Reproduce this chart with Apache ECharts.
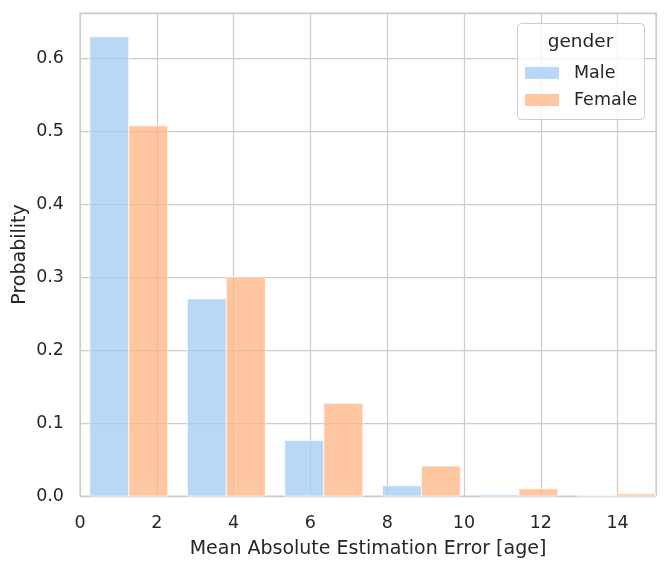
<!DOCTYPE html>
<html>
<head>
<meta charset="utf-8">
<script src="https://cdn.jsdelivr.net/npm/echarts@6/dist/echarts.min.js"></script>
<style>
html,body{margin:0;padding:0;background:#fff;}
#chart{width:665px;height:575px;}
</style>
</head>
<body>
<div id="chart"></div>
<script>
const binEdges = [0, 2.54, 5.08, 7.62, 10.16, 12.7, 15.24];
const maleValues = [0.629, 0.270, 0.076, 0.014, 0.002, 0.0005];
const femaleValues = [0.507, 0.300, 0.127, 0.041, 0.010, 0.003];
const xTicks = [0, 2, 4, 6, 8, 10, 12, 14];
const yTicks = [0.0, 0.1, 0.2, 0.3, 0.4, 0.5, 0.6];
const seriesNames = ['Male', 'Female'];
const colors = ['rgba(161,201,244,0.75)', 'rgba(255,180,130,0.75)'];

const FONT = 'DejaVu Sans';
const chart = echarts.init(document.getElementById('chart'));

function makeData(vals, k) {
  return vals.map((v, i) => {
    const a = binEdges[i], b = binEdges[i + 1];
    const w = (b - a) * 0.8 / 2;
    const x0 = a + (b - a) * 0.1 + k * w;
    return [x0, x0 + w, v];
  });
}

function renderItem(params, api) {
  const p0 = api.coord([api.value(0), api.value(2)]);
  const p1 = api.coord([api.value(1), 0]);
  const shape = echarts.graphic.clipRectByRect({
    x: p0[0], y: p0[1], width: p1[0] - p0[0], height: p1[1] - p0[1]
  }, {
    x: params.coordSys.x, y: params.coordSys.y,
    width: params.coordSys.width, height: params.coordSys.height
  });
  return shape && {
    type: 'rect',
    shape: shape,
    style: { fill: api.visual('color'), stroke: 'rgba(255,255,255,0.75)', lineWidth: 1 }
  };
}

const option = {
  animation: false,
  backgroundColor: '#fff',
  grid: { left: 80, right: 9, top: 13, bottom: 79, show: true, borderColor: '#cccccc', borderWidth: 1.25,
    outerBoundsMode: 'none', containLabel: false },
  xAxis: {
    type: 'value', min: 0, max: 15, interval: 2,
    name: 'Mean Absolute Estimation Error [age]', nameLocation: 'middle', nameGap: 44,
    nameMoveOverlap: false,
    nameTextStyle: { fontFamily: FONT, fontSize: 19, color: '#262626' },
    axisLine: { show: false }, axisTick: { show: false },
    axisLabel: { fontFamily: FONT, fontSize: 17.5, color: '#262626', margin: 18,
      customValues: xTicks },
    splitLine: { show: true, lineStyle: { color: '#cccccc', width: 1.25 } }
  },
  yAxis: {
    type: 'value', min: 0, max: 0.6616, interval: 0.1,
    name: 'Probability', nameLocation: 'middle', nameGap: 50,
    nameMoveOverlap: false,
    nameTextStyle: { fontFamily: FONT, fontSize: 19, color: '#262626' },
    axisLine: { show: false }, axisTick: { show: false },
    axisLabel: { fontFamily: FONT, fontSize: 17.5, color: '#262626', margin: 16,
      customValues: yTicks, formatter: v => v.toFixed(1) },
    splitLine: { show: true, lineStyle: { color: '#cccccc', width: 1.25 } }
  },
  legend: {
    orient: 'vertical', left: 520, top: 59, itemWidth: 34, itemHeight: 12, itemGap: 9,
    icon: 'rect', z: 60,
    textStyle: { fontFamily: FONT, fontSize: 17.5, color: '#262626', padding: [0, 0, 0, 10] },
    data: seriesNames
  },
  graphic: [
    { type: 'rect', left: 517, top: 23, z: 50,
      shape: { width: 127, height: 96, r: 4 },
      style: { fill: 'rgba(255,255,255,0.8)', stroke: '#cccccc', lineWidth: 1 } },
    { type: 'text', x: 580.5, y: 42, z: 51,
      style: { text: 'gender', font: '18.5px "DejaVu Sans"', fill: '#262626', align: 'center', verticalAlign: 'middle' } }
  ],
  series: [
    { name: seriesNames[0], type: 'custom', renderItem: renderItem, itemStyle: { color: colors[0] },
      encode: { x: [0, 1], y: 2 }, data: makeData(maleValues, 0), z: 2 },
    { name: seriesNames[1], type: 'custom', renderItem: renderItem, itemStyle: { color: colors[1] },
      encode: { x: [0, 1], y: 2 }, data: makeData(femaleValues, 1), z: 2 }
  ]
};
chart.setOption(option);
</script>
</body>
</html>
